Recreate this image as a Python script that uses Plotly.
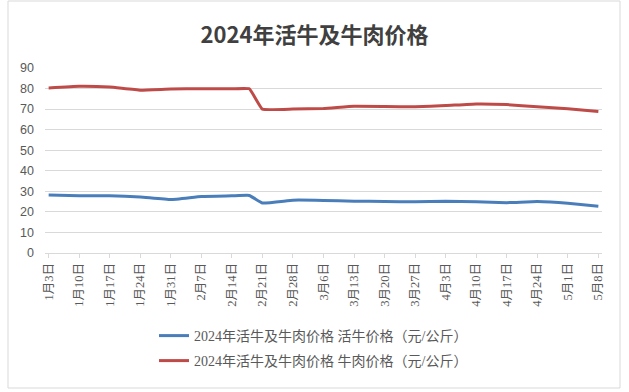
import plotly.graph_objects as go

# ---- data ----
dates = ["2024-01-03", "2024-01-10", "2024-01-17", "2024-01-24", "2024-01-31",
         "2024-02-07", "2024-02-14", "2024-02-18", "2024-02-21", "2024-02-28",
         "2024-03-06", "2024-03-13", "2024-03-20", "2024-03-27", "2024-04-03",
         "2024-04-10", "2024-04-17", "2024-04-24", "2024-05-01", "2024-05-08"]
live_cattle = [28.2, 27.9, 27.9, 27.3, 26.0, 27.5, 27.8, 28.0, 24.3, 25.7,
               25.6, 25.2, 25.1, 24.9, 25.2, 24.9, 24.5, 25.0, 24.2, 22.7]
beef = [80.3, 81.1, 80.7, 79.2, 79.8, 79.9, 79.9, 79.9, 70.0, 70.0,
        70.3, 71.4, 71.3, 71.1, 71.7, 72.5, 72.2, 71.1, 70.2, 68.8]
tick_dates = ["2024-01-03", "2024-01-10", "2024-01-17", "2024-01-24", "2024-01-31",
              "2024-02-07", "2024-02-14", "2024-02-21", "2024-02-28", "2024-03-06",
              "2024-03-13", "2024-03-20", "2024-03-27", "2024-04-03", "2024-04-10",
              "2024-04-17", "2024-04-24", "2024-05-01", "2024-05-08"]
tick_labels = ["1月3日", "1月10日", "1月17日", "1月24日", "1月31日", "2月7日", "2月14日",
               "2月21日", "2月28日", "3月6日", "3月13日", "3月20日", "3月27日", "4月3日",
               "4月10日", "4月17日", "4月24日", "5月1日", "5月8日"]
name_live = "2024年活牛及牛肉价格 活牛价格（元/公斤）"
name_beef = "2024年活牛及牛肉价格 牛肉价格（元/公斤）"

W, H = 629, 392
ML, MR, MT, MB = 45, 27, 68, 139
PW, PH = W - ML - MR, H - MT - MB

def px2x(px):
    return (px - ML) / PW

def py2y(py):
    return (H - MB - py) / PH

serif = "Liberation Serif, Noto Sans CJK SC, sans-serif"

fig = go.Figure()
fig.add_trace(go.Scatter(x=dates, y=live_cattle, mode="lines", name=name_live,
                         line=dict(color="#4A7EBB", width=3, shape="spline", smoothing=0.3),
                         legend="legend", showlegend=True))
fig.add_trace(go.Scatter(x=dates, y=beef, mode="lines", name=name_beef,
                         line=dict(color="#BE4B48", width=3, shape="spline", smoothing=0.3),
                         legend="legend2", showlegend=True))

legend_common = dict(font=dict(family=serif, size=14, color="#595959"),
                     bgcolor="rgba(0,0,0,0)", itemwidth=30, xanchor="left",
                     yanchor="middle", orientation="v", visible=True)

fig.update_layout(
    width=W, height=H, showlegend=True,
    margin=dict(l=ML, r=MR, t=MT, b=MB, autoexpand=False),
    paper_bgcolor="white", plot_bgcolor="white",
    title=dict(text="<b>2024年活牛及牛肉价格</b>", x=0.5, xanchor="center",
               y=1 - 35 / H, yanchor="middle",
               font=dict(family="Noto Sans CJK SC", size=22, color="#404040")),
    xaxis=dict(type="date",
               range=["2024-01-02 04:00", "2024-05-08 20:00"],
               tickmode="array", tickvals=tick_dates, ticktext=tick_labels,
               tickangle=-90, ticks="outside", ticklen=4, tickcolor="#D9D9D9",
               showline=True, linecolor="#D9D9D9", linewidth=1,
               showgrid=False, zeroline=False,
               tickfont=dict(family=serif, size=12.5, color="#595959")),
    yaxis=dict(range=[0, 90], dtick=10, tick0=0,
               showgrid=True, gridcolor="#D9D9D9", gridwidth=1,
               zeroline=False, showline=False, ticks="", ticklabelstandoff=10,
               tickfont=dict(family="Liberation Sans, Arial", size=12.5, color="#595959")),
    legend=dict(x=px2x(154), y=py2y(336), **legend_common),
    legend2=dict(x=px2x(154), y=py2y(361), **legend_common),
    shapes=[dict(type="rect", xref="paper", yref="paper",
                 x0=px2x(8), x1=px2x(620), y0=py2y(388), y1=py2y(1),
                 line=dict(color="#D9D9D9", width=1), fillcolor="rgba(0,0,0,0)",
                 layer="below")],
)

fig.write_html("out.html", config={"displayModeBar": False},
               post_script="document.body.style.margin='0';")
